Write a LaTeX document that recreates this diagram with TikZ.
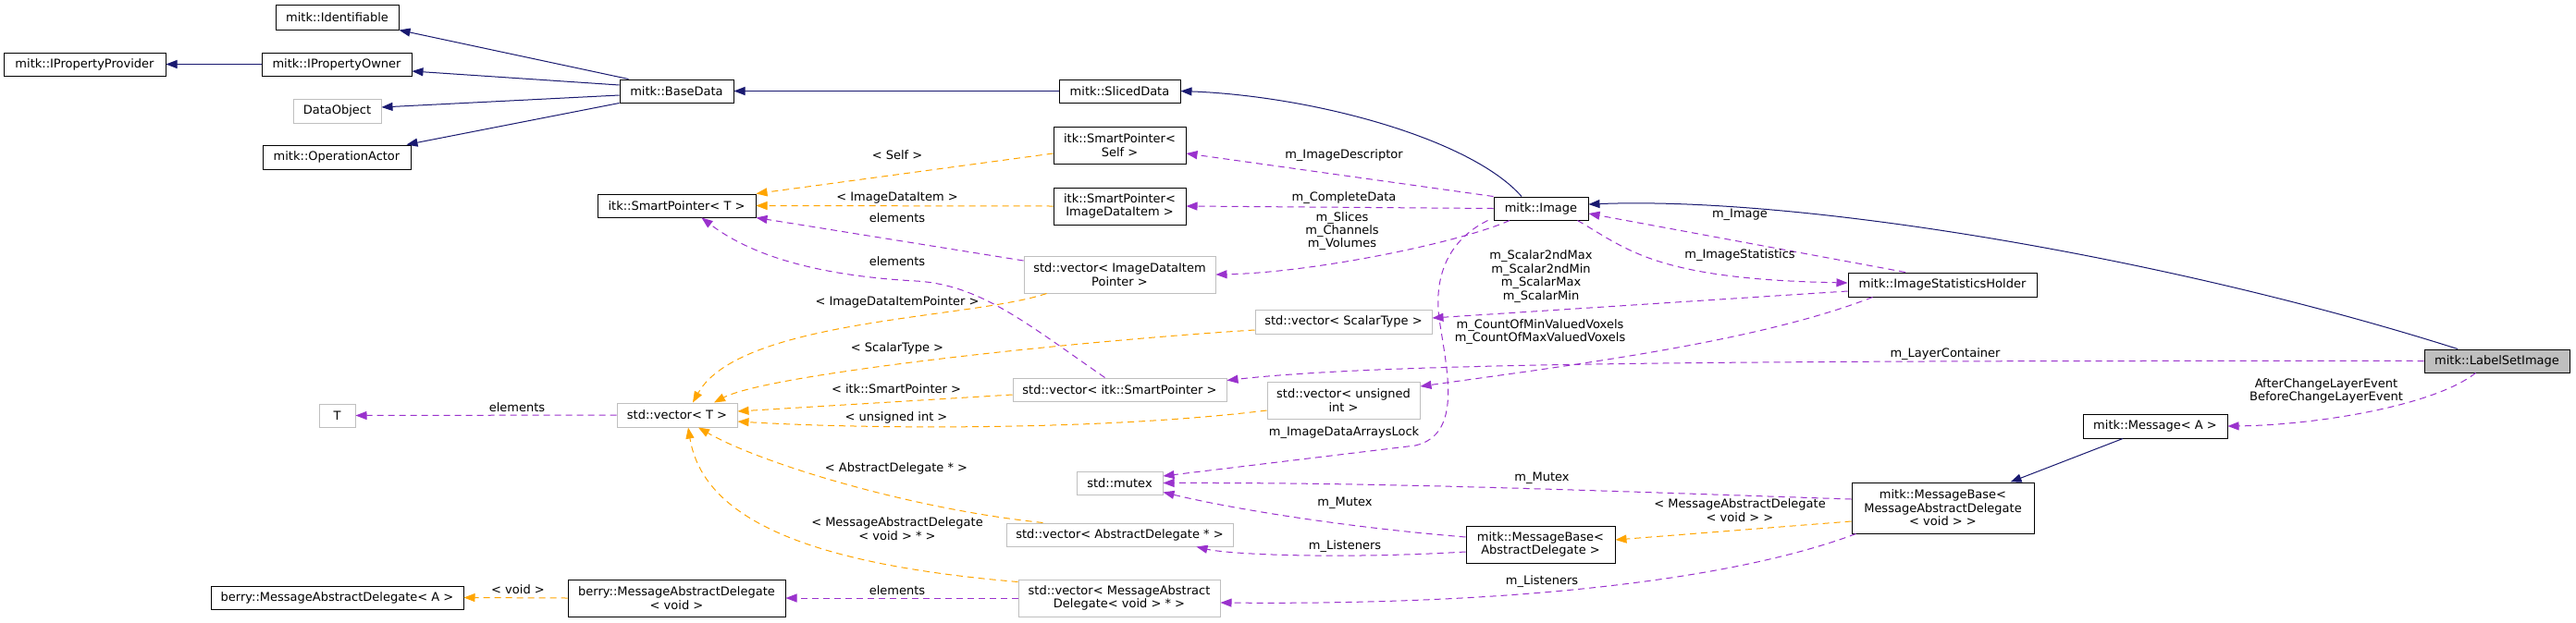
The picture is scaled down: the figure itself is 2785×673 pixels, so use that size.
\documentclass[tikz,border=0pt]{standalone}
\usepackage{fontspec}
\setmainfont{DejaVu Sans}
\usetikzlibrary{arrows.meta}
\definecolor{navyc}{HTML}{191970}
\definecolor{orngc}{HTML}{FFA500}
\definecolor{purpc}{HTML}{9A32CD}
\definecolor{greyc}{HTML}{BFBFBF}
\begin{document}
\begin{tikzpicture}[x=1pt,y=-1pt,
  txt/.style={font=\fontsize{13}{14.4}\selectfont},
  box/.style={txt,draw=black,line width=1pt,fill=white,inner sep=0pt,align=center},
  gbox/.style={box,draw=greyc},
  lbl/.style={txt,inner sep=0pt,align=center},
  tip/.style={-{Triangle[length=12pt,width=9pt]}},
  inh/.style={tip,draw=navyc,line width=1pt},
  tmpl/.style={tip,draw=orngc,line width=1pt,dash pattern=on 7pt off 5pt},
  use/.style={tip,draw=purpc,line width=1pt,dash pattern=on 7pt off 5pt}]
\useasboundingbox (0,0) rectangle (2785,673);
\fill[white] (0,0) rectangle (2785,673);

% ---------- nodes ----------
\node[box,minimum width=133pt,minimum height=27pt] (identifiable) at (364.5,18.5) {mitk::Identifiable};
\node[box,minimum width=175pt,minimum height=25pt] (ipp) at (91.5,69.5) {mitk::IPropertyProvider};
\node[box,minimum width=162pt,minimum height=25pt] (ipo) at (364,69.5) {mitk::IPropertyOwner};
\node[gbox,minimum width=95pt,minimum height=26pt] (dataobject) at (364.5,120) {DataObject};
\node[box,minimum width=160pt,minimum height=26pt] (opactor) at (364,170) {mitk::OperationActor};
\node[box,minimum width=123pt,minimum height=25pt] (basedata) at (731.5,98.5) {mitk::BaseData};
\node[box,minimum width=131pt,minimum height=25pt] (sliceddata) at (1210.5,98.5) {mitk::SlicedData};
\node[box,minimum width=143pt,minimum height=40pt] (spself) at (1210.5,157) {itk::SmartPointer<\\Self >};
\node[box,minimum width=143pt,minimum height=40pt] (spidi) at (1210.5,223) {itk::SmartPointer<\\ImageDataItem >};
\node[box,minimum width=171pt,minimum height=25pt] (spT) at (731.5,222.5) {itk::SmartPointer< T >};
\node[box,minimum width=102pt,minimum height=25pt] (image) at (1666,225.5) {mitk::Image};
\node[gbox,minimum width=207pt,minimum height=40pt] (vidip) at (1210.5,297) {std::vector< ImageDataItem\\Pointer >};
\node[box,minimum width=204pt,minimum height=26pt] (ish) at (2100,308) {mitk::ImageStatisticsHolder};
\node[gbox,minimum width=191pt,minimum height=26pt] (vscalar) at (1452.5,348) {std::vector< ScalarType >};
\node[box,fill=greyc,minimum width=157pt,minimum height=25pt] (lsi) at (2699.5,390.5) {mitk::LabelSetImage};
\node[gbox,minimum width=231pt,minimum height=25pt] (vitksp) at (1210.5,421.5) {std::vector< itk::SmartPointer >};
\node[gbox,minimum width=165pt,minimum height=40pt] (vuint) at (1452.5,433) {std::vector< unsigned\\int >};
\node[gbox,minimum width=39pt,minimum height=25pt] (T) at (364.5,449.5) {T};
\node[gbox,minimum width=130pt,minimum height=26pt] (vT) at (732,449) {std::vector< T >};
\node[box,minimum width=156pt,minimum height=26pt] (msgA) at (2330,461) {mitk::Message< A >};
\node[gbox,minimum width=93pt,minimum height=25pt] (mutex) at (1210.5,522.5) {std::mutex};
\node[box,minimum width=197pt,minimum height=55pt] (mbm) at (2100.5,549.5) {mitk::MessageBase<\\MessageAbstractDelegate\\< void > >};
\node[gbox,minimum width=245pt,minimum height=25pt] (vad) at (1210.5,578.5) {std::vector< AbstractDelegate * >};
\node[box,minimum width=161pt,minimum height=40pt] (mbad) at (1665.5,589) {mitk::MessageBase<\\AbstractDelegate >};
\node[gbox,minimum width=218pt,minimum height=40pt] (vmad) at (1210,647) {std::vector< MessageAbstract\\Delegate< void > * >};
\node[box,minimum width=235pt,minimum height=40pt] (bmadv) at (731.5,647) {berry::MessageAbstractDelegate\\< void >};
\node[box,minimum width=273pt,minimum height=25pt] (bmadA) at (364.5,646.5) {berry::MessageAbstractDelegate< A >};

% ---------- inheritance ----------
\draw[inh] ([xshift=10pt]basedata.north west) -- (identifiable.south east);
\draw[inh] ([yshift=6.5pt]basedata.west) -- ([yshift=-7.5pt]ipo.east);
\draw[inh] ([yshift=-4.5pt]basedata.west) -- ([yshift=4pt]dataobject.east);
\draw[inh] (basedata.south west) -- ([xshift=-5pt]opactor.north east);
\draw[inh] (ipo.west) -- (ipp.east);
\draw[inh] (sliceddata.west) -- (basedata.east);
\draw[inh] ([xshift=-21pt]image.north) .. controls (1590,150) and (1420,104) .. (sliceddata.east);
\draw[inh] ([xshift=-42.5pt]lsi.north) .. controls (2350,280) and (1950,212) .. ([yshift=4.5pt]image.east);
\draw[inh] ([xshift=-35pt]msgA.south) -- ([xshift=-26pt]mbm.north east);

% ---------- template instances ----------
\draw[tmpl] ([yshift=-9pt]spself.west) -- (spT.north east);
\draw[tmpl] (spidi.west) -- (spT.east);
\draw[tmpl] ([xshift=25pt]vidip.south west) .. controls (1050,345) and (800,345) .. ([xshift=17pt]vT.north);
\draw[tmpl] ([yshift=-9pt]vscalar.west) .. controls (1150,370) and (830,405) .. ([xshift=40pt]vT.north);
\draw[tmpl] ([yshift=-5.5pt]vitksp.west) -- ([yshift=4pt]vT.east);
\draw[tmpl] ([yshift=-11pt]vuint.west) .. controls (1200,465) and (950,465) .. ([yshift=-7pt]vT.east);
\draw[tmpl] ([xshift=40pt]vad.north west) .. controls (980,550) and (820,500) .. ([xshift=23pt]vT.south);
\draw[tmpl] ([yshift=-3pt]vmad.north west) .. controls (870,610) and (760,560) .. ([xshift=12pt]vT.south);
\draw[tmpl] (bmadv.west) -- (bmadA.east);
\draw[tmpl] ([yshift=-14.5pt]mbm.west) -- ([yshift=5pt]mbad.east);

% ---------- usage ----------
\draw[use] (image.north west) -- ([yshift=-9pt]spself.east);
\draw[use] (image.west) -- (spidi.east);
\draw[use] ([xshift=-34pt]image.south) .. controls (1580,262) and (1420,295) .. (vidip.east);
\draw[use] ([yshift=15pt]vidip.west) -- (spT.south east);
\draw[use] ([xshift=-16pt]vitksp.north) .. controls (1110,350) and (1060,308) .. (990,304) .. controls (880,298) and (810,275) .. ([xshift=27pt]spT.south);
\draw[use] (vT.west) -- (T.east);
\draw[use] ([xshift=-40pt]ish.north) -- ([yshift=-5.5pt]image.east);
\draw[use] ([xshift=-12pt]image.south east) .. controls (1760,270) and (1790,302) .. ([yshift=2pt]ish.west);
\draw[use] ([yshift=-7pt]ish.west) -- ([yshift=4pt]vscalar.east);
\draw[use] ([xshift=27pt]ish.south west) .. controls (1900,370) and (1700,395) .. ([yshift=15pt]vuint.east);
\draw[use] (lsi.west) .. controls (1900,390) and (1500,392) .. ([yshift=-3pt]vitksp.north east);
\draw[use] ([xshift=-23pt]lsi.south) .. controls (2630,440) and (2500,460) .. (msgA.east);
\draw[use] ([xshift=-6pt]image.south west) .. controls (1565,260) and (1550,300) .. (1556,345) .. controls (1564,400) and (1582,470) .. (1530,482) -- ([yshift=7.5pt]mutex.east);
\draw[use] ([yshift=9.5pt]mbm.west) .. controls (1700,530) and (1500,522) .. (mutex.east);
\draw[use] ([yshift=8pt]mbad.west) .. controls (1450,570) and (1330,550) .. ([yshift=-10pt]mutex.east);
\draw[use] ([yshift=-8pt]mbad.west) .. controls (1450,605) and (1330,600) .. ([xshift=-40pt]vad.south east);
\draw[use] ([xshift=5pt]mbm.south west) .. controls (1880,625) and (1650,655) .. ([yshift=-5pt]vmad.east);
\draw[use] (vmad.west) -- (bmadv.east);

% ---------- labels ----------
\node[lbl] (l1) at (970,168) {< Self >};
\node[lbl] (l2) at (970,214) {< ImageDataItem >};
\node[lbl] (l3) at (970,236) {elements};
\node[lbl] (l4) at (970,283) {elements};
\node[lbl] (l5) at (970,327) {< ImageDataItemPointer >};
\node[lbl] (l6) at (970,377) {< ScalarType >};
\node[lbl] (l7) at (969,421) {< itk::SmartPointer >};
\node[lbl] (l8) at (969,452) {< unsigned int >};
\node[lbl] (l9) at (969,507) {< AbstractDelegate * >};
\node[lbl] (l10) at (970,572) {< MessageAbstractDelegate\\< void > * >};
\node[lbl] (l11) at (970,639) {elements};
\node[lbl] (l12) at (559,441) {elements};
\node[lbl] (l13) at (560,638) {< void >};
\node[lbl] (l14) at (1453,168) {m\_ImageDescriptor};
\node[lbl] (l15) at (1453,214) {m\_CompleteData};
\node[lbl] (l16) at (1451,250) {m\_Slices\\m\_Channels\\m\_Volumes};
\node[lbl] (l17) at (1881,232) {m\_Image};
\node[lbl] (l18) at (1881,276) {m\_ImageStatistics};
\node[lbl] (l19) at (1666,299) {m\_Scalar2ndMax\\m\_Scalar2ndMin\\m\_ScalarMax\\m\_ScalarMin};
\node[lbl] (l20) at (1665,359) {m\_CountOfMinValuedVoxels\\m\_CountOfMaxValuedVoxels};
\node[lbl] (l21) at (2103,383) {m\_LayerContainer};
\node[lbl] (l22) at (2515,423) {AfterChangeLayerEvent\\BeforeChangeLayerEvent};
\node[lbl] (l23) at (1453,468) {m\_ImageDataArraysLock};
\node[lbl] (l24) at (1667,517) {m\_Mutex};
\node[lbl] (l25) at (1454,544) {m\_Mutex};
\node[lbl] (l26) at (1454,591) {m\_Listeners};
\node[lbl] (l27) at (1881,552) {< MessageAbstractDelegate\\< void > >};
\node[lbl] (l28) at (1667,629) {m\_Listeners};
\end{tikzpicture}
\end{document}
